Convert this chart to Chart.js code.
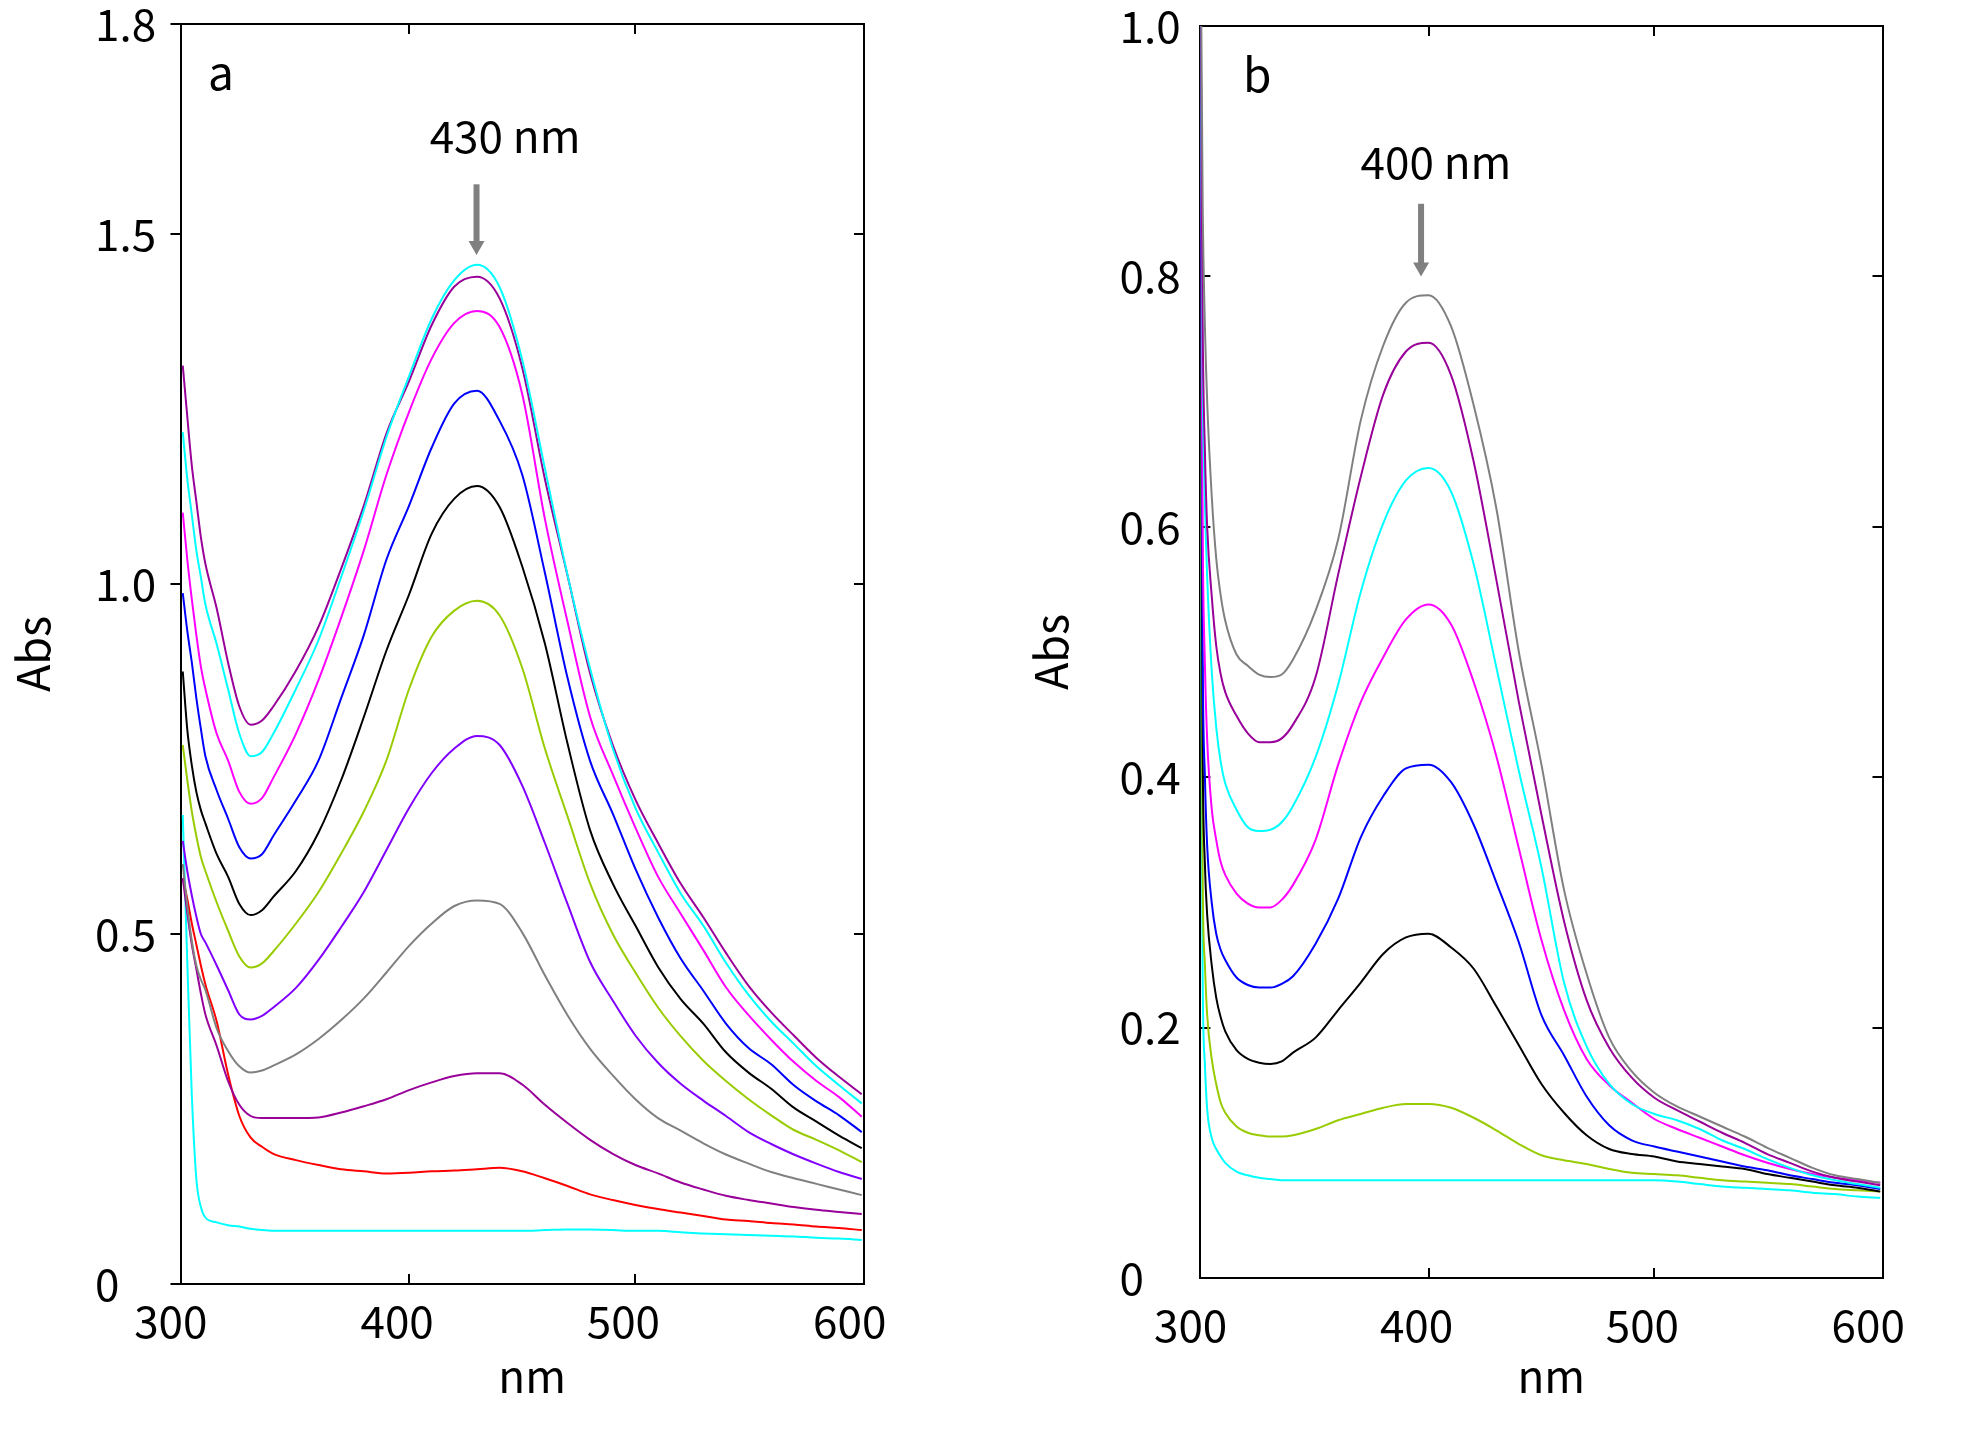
<!DOCTYPE html>
<html>
<head>
<meta charset="utf-8">
<title>Abs spectra a / b</title>
<script src="https://cdn.jsdelivr.net/npm/chart.js@4.4.1/dist/chart.umd.min.js"></script>
<style>
  html, body { margin: 0; padding: 0; background: #fff; }
  #wrap { position: relative; width: 1961px; height: 1432px; }
  canvas { position: absolute; top: 0; }
</style>
</head>
<body>
<div id="wrap">
  <canvas id="panelA" width="980" height="1432" style="left:0"></canvas>
  <canvas id="panelB" width="981" height="1432" style="left:980px"></canvas>
</div>
<script>
// ---- panel a : wavelength (nm) and absorbance, curves listed top to bottom at 430 nm
const wlA = [300, 302, 304, 306, 308, 310, 315, 320, 325, 330, 335, 340,
  350, 360, 370, 380, 390, 400, 410, 420, 430, 440, 450, 460, 470, 480, 490,
  500, 510, 520, 530, 540, 550, 560, 570, 580, 590, 600];

const a1 = [1.217,1.150,1.099,1.048,1.010,0.971, 0.914,0.850,0.786,0.754,0.760,0.786,
  0.850,0.920,1.010,1.105,1.210,1.297,1.379,1.434,1.456,1.424,1.320,1.165,1.013,0.879,0.765,
  0.680,0.617,0.558,0.512,0.459,0.413,0.375,0.343,0.311,0.284,0.258];
const a2 = [1.312,1.239,1.169,1.118,1.067,1.029, 0.965,0.888,0.825,0.799,0.805,0.825,
  0.876,0.939,1.022,1.112,1.215,1.290,1.370,1.425,1.439,1.408,1.309,1.150,1.012,0.872,0.770,
  0.692,0.630,0.572,0.524,0.473,0.426,0.388,0.355,0.323,0.296,0.271];
const a3 = [1.102,1.035,0.978,0.927,0.882,0.850, 0.786,0.748,0.703,0.686,0.694,0.723,
  0.786,0.863,0.952,1.048,1.156,1.246,1.322,1.373,1.390,1.367,1.271,1.093,0.946,0.810,0.728,
  0.652,0.582,0.529,0.477,0.424,0.384,0.349,0.317,0.290,0.267,0.239];
const a4 = [0.987,0.933,0.888,0.837,0.793,0.754, 0.705,0.665,0.624,0.608,0.614,0.640,
  0.691,0.748,0.837,0.927,1.035,1.112,1.195,1.258,1.276,1.233,1.156,1.016,0.866,0.747,0.672,
  0.593,0.524,0.465,0.419,0.372,0.337,0.314,0.284,0.261,0.241,0.217];
const a5 = [0.875,0.792,0.741,0.703,0.677,0.658, 0.614,0.582,0.543,0.527,0.534,0.553,
  0.590,0.645,0.720,0.810,0.905,0.985,1.072,1.122,1.140,1.110,1.025,0.915,0.772,0.648,0.572,
  0.512,0.453,0.407,0.372,0.331,0.302,0.279,0.252,0.232,0.212,0.194];
const a6 = [0.770,0.720,0.675,0.640,0.610,0.590, 0.545,0.505,0.468,0.452,0.458,0.475,
  0.515,0.560,0.615,0.675,0.748,0.850,0.925,0.962,0.976,0.955,0.880,0.765,0.668,0.572,0.500,
  0.445,0.395,0.354,0.319,0.290,0.264,0.241,0.220,0.206,0.191,0.174];
const a7 = [0.633,0.590,0.555,0.525,0.500,0.488, 0.455,0.420,0.385,0.378,0.383,0.395,
  0.423,0.463,0.510,0.560,0.620,0.680,0.730,0.765,0.783,0.770,0.712,0.630,0.543,0.460,0.405,
  0.355,0.316,0.286,0.262,0.240,0.217,0.200,0.185,0.172,0.160,0.150];
const a8 = [0.600,0.540,0.490,0.455,0.435,0.420, 0.365,0.333,0.311,0.302,0.305,0.312,
  0.328,0.350,0.377,0.408,0.445,0.483,0.515,0.540,0.548,0.543,0.502,0.441,0.384,0.336,0.298,
  0.264,0.237,0.219,0.201,0.185,0.172,0.160,0.151,0.143,0.135,0.127];
const a9 = [0.580,0.530,0.485,0.450,0.415,0.385, 0.340,0.290,0.256,0.240,0.237,0.237,
  0.237,0.238,0.245,0.254,0.264,0.277,0.288,0.297,0.301,0.301,0.285,0.256,0.230,0.206,0.186,
  0.170,0.158,0.145,0.135,0.126,0.120,0.115,0.110,0.106,0.103,0.100];
const a10 = [0.580,0.550,0.515,0.485,0.455,0.428, 0.375,0.300,0.240,0.209,0.196,0.186,
  0.177,0.170,0.164,0.161,0.158,0.159,0.161,0.162,0.164,0.166,0.161,0.151,0.140,0.128,0.120,
  0.113,0.107,0.102,0.097,0.092,0.090,0.087,0.085,0.082,0.080,0.077];
const a11 = [0.670,0.460,0.270,0.150,0.110,0.095, 0.088,0.084,0.082,0.079,0.077,0.076,
  0.076,0.076,0.076,0.076,0.076,0.076,0.076,0.076,0.076,0.076,0.076,0.077,0.078,0.078,0.077,
  0.076,0.076,0.074,0.072,0.071,0.070,0.069,0.068,0.066,0.065,0.063];

// ---- panel b : curves listed top to bottom at 400 nm
const wlB = [298, 299, 300, 301, 302, 304, 306, 308, 310, 315, 320, 325, 330, 335, 340,
  350, 360, 370, 380, 390, 400, 410, 420, 430, 440, 450, 460, 470, 480, 490,
  500, 510, 520, 530, 540, 550, 560, 570, 580, 590, 600];

const b1 = [1.40,1.10,0.86,0.76,0.70,0.625,0.575,0.545,0.525,0.498,0.489,0.482,0.480,0.482,0.494,
  0.533,0.590,0.685,0.745,0.779,0.785,0.760,0.697,0.615,0.500,0.410,0.310,0.243,0.192,0.165,
  0.148,0.137,0.129,0.121,0.113,0.104,0.096,0.088,0.082,0.079,0.076];
const b2 = [1.35,1.05,0.76,0.66,0.60,0.545,0.505,0.482,0.468,0.449,0.435,0.428,0.428,0.431,0.442,
  0.480,0.562,0.640,0.706,0.740,0.747,0.721,0.652,0.558,0.460,0.370,0.285,0.222,0.184,0.160,
  0.144,0.134,0.125,0.116,0.108,0.099,0.092,0.085,0.080,0.077,0.074];
const b3 = [1.30,1.00,0.72,0.62,0.56,0.485,0.440,0.412,0.395,0.374,0.360,0.357,0.358,0.364,0.377,
  0.416,0.474,0.548,0.603,0.637,0.647,0.628,0.570,0.488,0.405,0.328,0.236,0.185,0.155,0.139,
  0.131,0.126,0.119,0.110,0.103,0.095,0.088,0.082,0.078,0.075,0.072];
const b4 = [1.30,1.00,0.60,0.49,0.43,0.375,0.350,0.332,0.322,0.307,0.299,0.296,0.296,0.302,0.314,
  0.350,0.410,0.460,0.496,0.526,0.538,0.522,0.476,0.417,0.343,0.270,0.214,0.175,0.154,0.140,
  0.127,0.119,0.112,0.105,0.098,0.092,0.087,0.083,0.080,0.078,0.076];
const b5 = [1.25,0.95,0.50,0.40,0.345,0.300,0.275,0.262,0.254,0.240,0.234,0.232,0.232,0.235,0.241,
  0.267,0.303,0.352,0.385,0.407,0.410,0.396,0.362,0.316,0.268,0.210,0.178,0.145,0.122,0.110,
  0.105,0.101,0.097,0.093,0.089,0.086,0.082,0.079,0.076,0.074,0.071];
const b6 = [1.10,0.80,0.42,0.33,0.29,0.250,0.224,0.208,0.197,0.182,0.175,0.172,0.171,0.173,0.180,
  0.192,0.214,0.236,0.259,0.272,0.275,0.264,0.247,0.217,0.186,0.155,0.132,0.114,0.103,0.099,
  0.097,0.093,0.091,0.089,0.087,0.083,0.080,0.077,0.074,0.072,0.069];
const b7 = [0.95,0.70,0.32,0.25,0.21,0.175,0.155,0.140,0.132,0.121,0.116,0.114,0.113,0.113,0.114,
  0.119,0.126,0.131,0.136,0.139,0.139,0.136,0.128,0.118,0.107,0.098,0.094,0.091,0.087,0.084,
  0.083,0.082,0.080,0.078,0.077,0.076,0.075,0.073,0.071,0.070,0.069];
const b8 = [0.85,0.62,0.24,0.17,0.135,0.112,0.103,0.097,0.092,0.085,0.082,0.080,0.079,0.078,0.078,
  0.078,0.078,0.078,0.078,0.078,0.078,0.078,0.078,0.078,0.078,0.078,0.078,0.078,0.078,0.078,
  0.078,0.077,0.075,0.073,0.072,0.071,0.070,0.068,0.067,0.065,0.064];

// ---- ticks
const xTicks = [300, 400, 500, 600];
const xInnerTicks = [400, 500];
const yTicksA = [0, 0.5, 1.0, 1.5, 1.8];
const yInnerA = [0.5, 1.0, 1.5];
const yTicksB = [0, 0.2, 0.4, 0.6, 0.8, 1.0];
const yInnerB = [0.2, 0.4, 0.6, 0.8];

const coloursA = ['#00ffff', '#990099', '#ff00ff', '#0000ff', '#000000', '#99cc00',
  '#8000ff', '#808080', '#990099', '#ff0000', '#00ffff'];
const coloursB = ['#808080', '#990099', '#00ffff', '#ff00ff', '#0000ff', '#000000',
  '#99cc00', '#00ffff'];

const FONT = '"Noto Sans CJK JP", "Noto Sans", sans-serif';
Chart.defaults.font.family = FONT;
Chart.defaults.color = '#000';

// letters, peak labels and grey arrows, placed in data units
const notesPlugin = {
  id: 'panelNotes',
  afterDraw(chart, args, o) {
    const {ctx} = chart;
    const x = chart.scales.x, y = chart.scales.y;
    ctx.save();
    ctx.fillStyle = '#000';
    ctx.textAlign = 'center';
    ctx.textBaseline = 'middle';
    ctx.font = '46px ' + FONT;
    ctx.fillText(o.letter, x.getPixelForValue(o.letterAt[0]), y.getPixelForValue(o.letterAt[1]));
    ctx.font = '44px ' + FONT;
    ctx.fillText(o.peak, x.getPixelForValue(o.peakAt[0]), y.getPixelForValue(o.peakAt[1]));

    const ax = x.getPixelForValue(o.arrowX);
    const top = y.getPixelForValue(o.arrowFrom);
    const tip = y.getPixelForValue(o.arrowTo);
    ctx.strokeStyle = '#808080';
    ctx.fillStyle = '#808080';
    ctx.lineWidth = 6;
    ctx.beginPath();
    ctx.moveTo(ax, top);
    ctx.lineTo(ax, tip - 12);
    ctx.stroke();
    ctx.beginPath();
    ctx.moveTo(ax - 8, tip - 14);
    ctx.lineTo(ax + 8, tip - 14);
    ctx.lineTo(ax, tip);
    ctx.closePath();
    ctx.fill();
    ctx.restore();
  }
};

function fixedSize(prop, size) {
  return s => {
    s[prop] = size;
    s.paddingLeft = 0; s.paddingRight = 0; s.paddingTop = 0; s.paddingBottom = 0;
  };
}
function setTicks(values) {
  return s => { s.ticks = values.map(v => ({value: v})); };
}

function makePanel(id, p) {
  const frame = {color: '#000', width: 2};
  return new Chart(document.getElementById(id), {
    type: 'line',
    data: {
      datasets: p.curves.map((vals, i) => ({
        data: vals.map((v, k) => ({x: p.wl[k], y: v})),
        xAxisID: 'x',
        yAxisID: 'y',
        borderColor: p.colours[i],
        borderWidth: 2,
        pointRadius: 0,
        fill: false,
        cubicInterpolationMode: 'monotone'
      }))
    },
    options: {
      responsive: false,
      animation: false,
      events: [],
      layout: {padding: p.pad},
      plugins: {
        legend: {display: false},
        tooltip: {enabled: false},
        panelNotes: p.notes
      },
      scales: {
        x: {
          type: 'linear', position: 'bottom', min: 299, max: 601,
          afterBuildTicks: setTicks(xTicks),
          afterFit: fixedSize('height', p.bottomH),
          border: frame,
          grid: {
            drawOnChartArea: false, tickLength: -10, lineWidth: 2,
            color: c => (c.tick && xInnerTicks.includes(c.tick.value)) ? '#000' : 'rgba(0,0,0,0)'
          },
          ticks: {color: '#000', font: {size: 44}, padding: p.xLabelPad, labelOffset: -12,
                  maxRotation: 0, autoSkip: false},
          title: {display: true, text: '\u00a0\u00a0nm', color: '#000', font: {size: 44},
                  padding: {top: 0, bottom: 29}}
        },
        xt: {
          type: 'linear', position: 'top', min: 299, max: 601,
          afterBuildTicks: setTicks(xInnerTicks),
          afterFit: fixedSize('height', 0),
          border: frame,
          grid: {drawOnChartArea: false, tickLength: -10, lineWidth: 2, color: '#000'},
          ticks: {display: false}
        },
        y: {
          type: 'linear', position: 'left', min: 0, max: p.yMax,
          afterBuildTicks: setTicks(p.yTicks),
          afterFit: fixedSize('width', p.yW),
          border: frame,
          grid: {drawOnChartArea: false, tickLength: p.yTickLen, lineWidth: 2, color: '#000'},
          ticks: {color: '#000', font: {size: 44}, crossAlign: 'far',
                  callback: v => (v === 0 ? '0' : v.toFixed(1))}
        },
        yr: {
          type: 'linear', position: 'right', min: 0, max: p.yMax,
          afterBuildTicks: setTicks(p.yInner),
          afterFit: fixedSize('width', 0),
          border: frame,
          grid: {drawOnChartArea: false, tickLength: -10, lineWidth: 2, color: '#000'},
          ticks: {display: false}
        },
        yt: {
          type: 'linear', position: 'left', weight: 1,
          afterFit: fixedSize('width', p.titleW),
          border: {display: false},
          grid: {display: false},
          ticks: {display: false},
          title: {display: true, text: 'Abs', color: '#000', font: {size: 45},
                  padding: {top: p.absPad, bottom: 0}}
        }
      }
    },
    plugins: [notesPlugin]
  });
}

makePanel('panelA', {
  wl: wlA,
  curves: [a1, a2, a3, a4, a5, a6, a7, a8, a9, a10, a11],
  colours: coloursA,
  pad: {top: 24, right: 116, bottom: 0, left: 0},
  bottomH: 148, xLabelPad: 21,
  yMax: 1.8, yTicks: yTicksA, yInner: yInnerA, yTickLen: 10,
  yW: 85.5, titleW: 95, absPad: 6,
  notes: {letter: 'a', letterAt: [316.9, 1.731], peak: '430 nm', peakAt: [442.4, 1.640],
          arrowX: 429.8, arrowFrom: 1.571, arrowTo: 1.470}
});

makePanel('panelB', {
  wl: wlB,
  curves: [b1, b2, b3, b4, b5, b6, b7, b8],
  colours: coloursB,
  pad: {top: 26, right: 78.5, bottom: 0, left: 0},
  bottomH: 154, xLabelPad: 31,
  yMax: 1.0, yTicks: yTicksB, yInner: yInnerB, yTickLen: -10,
  yW: 80.9, titleW: 139.5, absPad: 44,
  notes: {letter: 'b', letterAt: [324.1, 0.961], peak: '400 nm', peakAt: [403.3, 0.891],
          arrowX: 396.7, arrowFrom: 0.858, arrowTo: 0.800}
});
</script>
</body>
</html>
